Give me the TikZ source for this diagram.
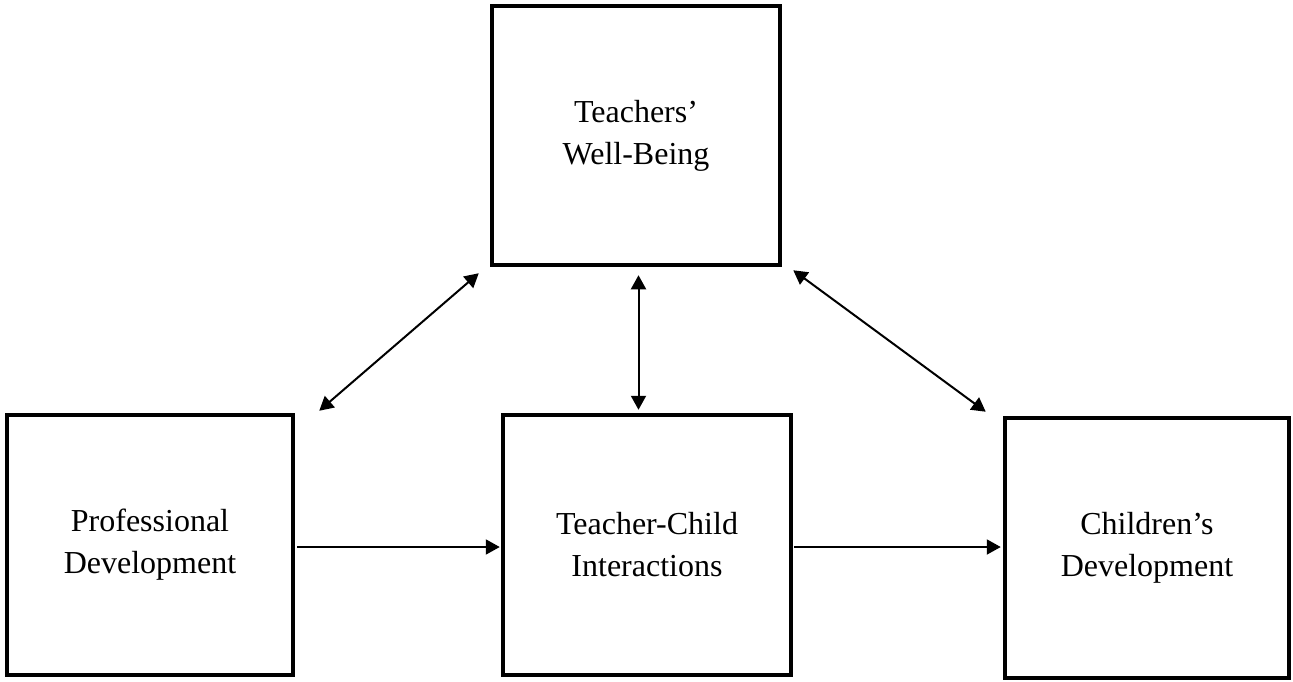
\documentclass[tikz,border=0pt]{standalone}
\usepackage{fontspec}
\setmainfont{Liberation Serif}
\usetikzlibrary{arrows.meta,calc}
\begin{document}
\begin{tikzpicture}[x=1pt,y=-1pt,
  box/.style={draw=black,line width=4.5pt,rectangle,align=center,inner sep=0pt,
    font=\fontsize{32}{42}\selectfont},
  link/.style={line width=2pt,-{Triangle[length=14pt,width=15pt]}},
  biline/.style={line width=2pt,{Triangle[length=14pt,width=15pt]}-{Triangle[length=14pt,width=15pt]}}]
\useasboundingbox (0,0) rectangle (1293,682);
\node[box,minimum width=288pt,minimum height=259pt] (twb) at (636,135.5) {Teachers'\\Well-Being};
\node[box,minimum width=286pt,minimum height=260pt] (pd) at (150,545) {Professional\\Development};
\node[box,minimum width=288pt,minimum height=260pt] (tci) at (647,545) {Teacher-Child\\Interactions};
\node[box,minimum width=284pt,minimum height=260pt] (cd) at (1147,548) {Children’s\\Development};
\draw[link] ($(pd.east)+(2,2)$) -- ($(tci.west)+(-1,2)$);
\draw[link] ($(tci.east)+(1,2)$) -- ($(cd.west)+(-2,-1)$);
\draw[biline] ($(pd.north east)+(24,-2)$) -- ($(twb.south west)+(-11,6)$);
\draw[biline] ($(twb.south)+(2.5,8)$) -- ($(tci.north)+(-8.5,-3)$);
\draw[biline] ($(twb.south east)+(11,3)$) -- ($(cd.north west)+(-17,-4)$);
\end{tikzpicture}
\end{document}
